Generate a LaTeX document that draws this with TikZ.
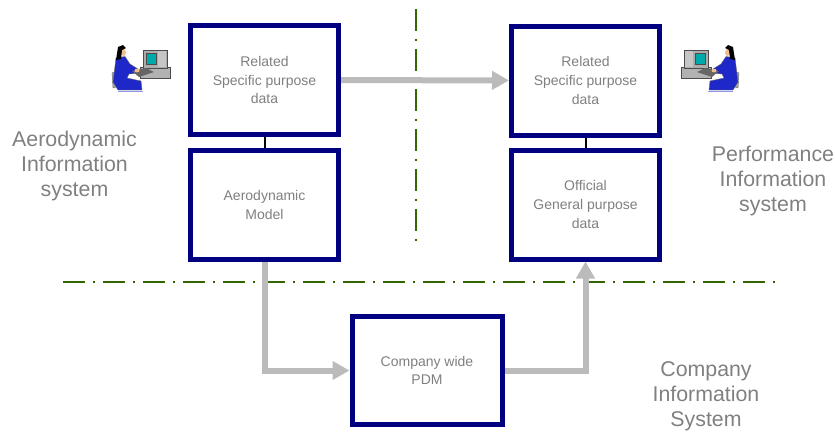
\documentclass[tikz,border=0pt]{standalone}
\usepackage{fontspec}
\setmainfont{Liberation Sans}
\usepackage{tikz}
\usetikzlibrary{positioning}
\usetikzlibrary{arrows.meta,shapes}
\usetikzlibrary{calc}
\definecolor{boxblue}{RGB}{0,0,128}
\definecolor{linegreen}{RGB}{51,102,0}
\definecolor{flowgray}{RGB}{187,187,187}
\definecolor{textgray}{RGB}{128,128,128}
\definecolor{userblue}{RGB}{30,40,200}
\definecolor{skin}{RGB}{240,190,140}
\definecolor{screen}{RGB}{0,170,170}
\tikzstyle{infobox}=[rectangle,draw=boxblue,line width=3.75pt,fill=white,minimum width=111pt,minimum height=81.75pt,inner sep=0pt,align=center,text=textgray,font=\fontsize{10.5}{14}\selectfont]
\tikzstyle{flow} = [draw=flowgray,line width=4.5pt,-{Triangle[length=12.75pt,width=13.5pt]}]
\tikzstyle{undirectededge} = [draw,line width=1.5pt]
\tikzstyle{divider} = [draw=linegreen,line width=2.1pt,dash pattern=on 16.5pt off 6pt on 1.5pt off 6pt]
\tikzstyle{syslabel} = [align=center,text=textgray,font=\fontsize{16}{18.75}\selectfont]
\newcommand{\deskuser}[1]{%
  \begin{scope}[#1]
    % chair
    \fill[gray!70,draw=black!60,line width=0.3pt] (112,73) -- (116,71) -- (119,86) -- (113,88) -- cycle;
    % desk and monitor
    \fill[gray!60,draw=black!70,line width=0.3pt] (140,67) rectangle (170,78);
    \fill[gray!65,draw=black!70,line width=0.3pt] (143,50) rectangle (167,68);
    \fill[gray!45] (158,51) rectangle (166,67);
    \fill[screen,draw=black!70,line width=0.3pt] (146,53) rectangle (156,64);
    % body
    \fill[userblue,draw=black!60,line width=0.3pt] (116,58) -- (125,56.5) -- (130,64) -- (138,69) -- (139,73) -- (129,74) -- (127,78) -- (141,81) -- (142,90) -- (118,90) -- (113,82) -- cycle;
    % keyboard and hand
    \fill[gray!80!black] (132,71) -- (146,68) -- (154,72) -- (139,77) -- cycle;
    \fill[skin] (137,70.5) ellipse (2.5 and 1.8);
    % head
    \fill[skin] (123.5,52.5) ellipse (2.5 and 3.5);
    \fill[black] (118,47) -- (123,45) -- (126,48) -- (122,50) -- (121,59) -- (116,60) -- cycle;
    \draw[userblue!50,line width=0.6pt] (118,91.5) -- (143,91.5);
  \end{scope}}

\begin{document}
\begin{tikzpicture}[x=0.75pt,y=-0.75pt]
    \useasboundingbox (0,0) rectangle (835,433);

    % dividers between the systems
    \coordinate (vtop) at (416,9);
    \coordinate (vbot) at (416,242);
    \coordinate (hleft) at (63,282);
    \coordinate (hright) at (782,282);
    \path[divider] (vtop) -- (vbot);
    \path[divider] (hleft) -- (hright);

    % the data boxes
    \foreach \pos/\name/\txt in {{(264.5,80)/AeroRel/{Related\\Specific purpose\\data}},
        {(264.5,205)/AeroModel/{Aerodynamic\\Model}},
        {(585.5,80.5)/PerfRel/{Related\\Specific purpose\\data}},
        {(585.5,204.5)/PerfOff/{Official\\General purpose\\data}}}
        \node[infobox] (\name) at \pos {\txt};
    \node[infobox,minimum width=112.5pt,minimum height=81pt] (PDM) at (427,370.5) {Company wide\\PDM};

    % links and data flow
    \foreach \source/\dest in {AeroRel/AeroModel, PerfRel/PerfOff}
        \path[undirectededge] (\source) -- (\dest);
    \path[flow] (AeroRel) -- (PerfRel);
    \path[flow] (AeroModel.south) |- (PDM.west);
    \path[flow] (PDM.east) -| (PerfOff.south);

    % system names
    \node[syslabel] (aerosys) at (74.5,166) {Aerodynamic\\Information\\system};
    \node[syslabel] (perfsys) at (773,181) {Performance\\Information\\system};
    \node[syslabel] (compsys) at (706,396) {Company\\Information\\System};

    % users
    \deskuser{}
    \deskuser{shift={(851,0)},xscale=-1}
\end{tikzpicture}
\end{document}
